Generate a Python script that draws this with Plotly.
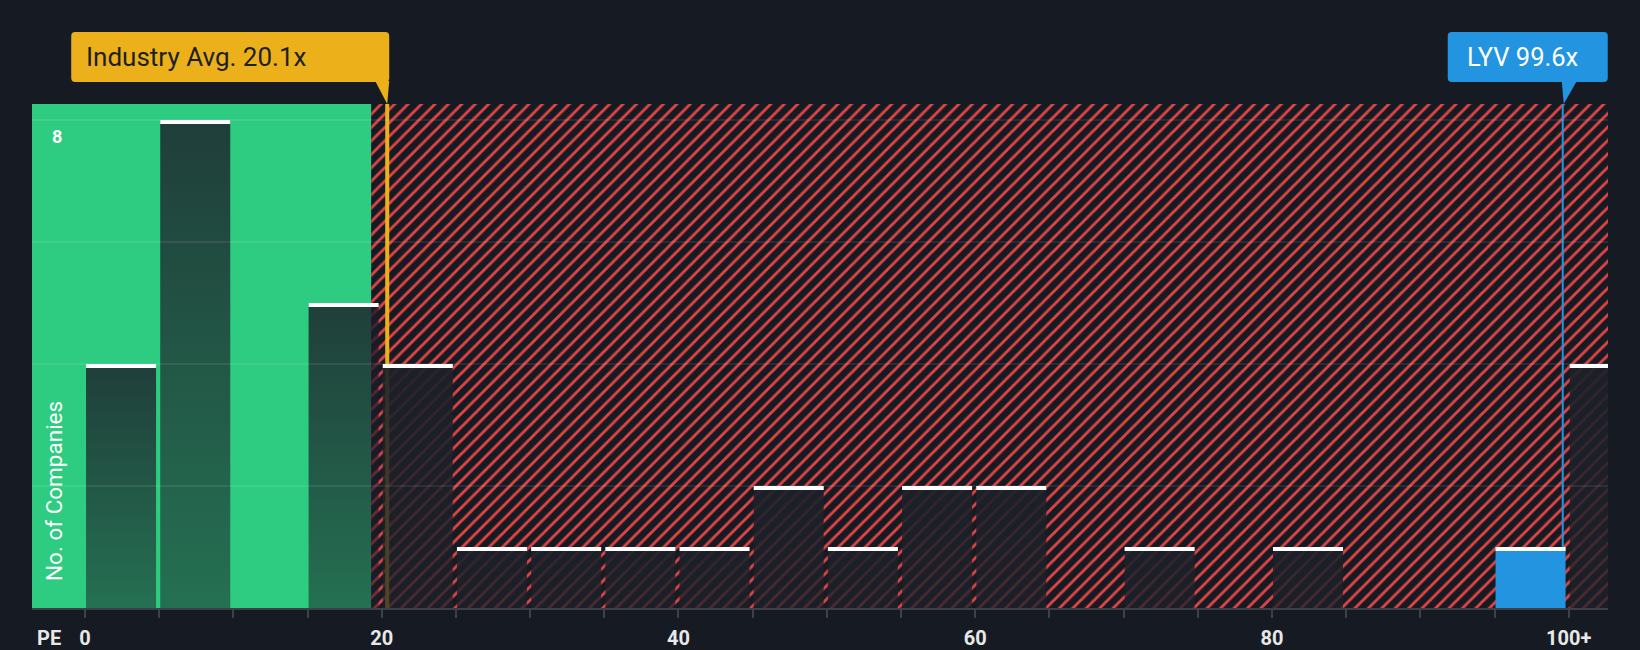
import plotly.graph_objects as go

# ---------------- data ----------------
bin_starts = [0, 5, 10, 15, 20, 25, 30, 35, 40, 45, 50, 55, 60, 65, 70, 75, 80, 85, 90, 95, 100]
counts = [4, 8, 0, 5, 4, 1, 1, 1, 1, 2, 1, 2, 2, 0, 1, 0, 1, 0, 0, 1, 4]
tick_vals = [0, 5, 10, 15, 20, 25, 30, 35, 40, 45, 50, 55, 60, 65, 70, 75, 80, 85, 90, 95, 100]
tick_text_map = {0: "0", 20: "20", 40: "40", 60: "60", 80: "80", 100: "100+"}
y_grid = [2, 4, 6, 8]
y_tick_labels = [8]
industry_avg = 20.1
company_pe = 99.6
company_name = "LYV"
company_bin = 95
fair_edge = 19.3

# ---------------- style ----------------
BG = "#161b23"
GREEN = "#2ecc80"
HATCH = "#e04444"
ORANGE = "#ecb11a"
BLUE = "#2394e0"
AXIS = "#3b414b"
FONT = "Roboto"
X_RANGE = [-3.572, 102.65]
Y_MAX = 8.262
BAR_PAD = 0.07
BAR_W = 4.72
PX_PER_Y = 61.0
PX_PER_X = 1576.0 / (X_RANGE[1] - X_RANGE[0])
IND_SHIFT_PX = 4  # visual nudge of the industry marker line

ind_x = industry_avg + IND_SHIFT_PX / PX_PER_X

fig = go.Figure()

# hatched (over-valued) zone
fig.add_trace(go.Scatter(
    x=[fair_edge, fair_edge, 110, 110, fair_edge],
    y=[0, Y_MAX, Y_MAX, 0, 0],
    mode="none", fill="toself", fillcolor=BG,
    fillpattern=dict(shape="/", fgcolor=HATCH, bgcolor=BG, fgopacity=1,
                     size=9.5, solidity=0.3),
    hoverinfo="skip",
))

# reference lines
fig.add_trace(go.Scatter(x=[ind_x, ind_x], y=[0, Y_MAX], mode="lines",
                         line=dict(color=ORANGE, width=4), hoverinfo="skip"))
fig.add_trace(go.Scatter(x=[company_pe, company_pe], y=[0, Y_MAX], mode="lines",
                         line=dict(color=BLUE, width=2), hoverinfo="skip"))

# bars
top_x, top_y = [], []
off = 2.0 / PX_PER_Y
for b, c in zip(bin_starts, counts):
    if c <= 0:
        continue
    x0, x1 = b + BAR_PAD, b + BAR_PAD + BAR_W
    xs = [x0, x0, x1, x1, x0]
    ys = [0, c, c, 0, 0]
    if b == company_bin:
        fig.add_trace(go.Scatter(x=xs, y=ys, mode="none", fill="toself",
                                 fillcolor=BLUE, hoverinfo="skip"))
    else:
        if x0 < fair_edge:
            cs = [[0, "rgba(28,27,40,0.52)"], [1, "rgba(28,27,40,0.80)"]]
        else:
            cs = [[0, "rgba(27,32,41,0.74)"], [1, "rgba(27,32,41,0.92)"]]
        fig.add_trace(go.Scatter(
            x=xs, y=ys, mode="none", fill="toself",
            fillgradient=dict(type="vertical", colorscale=cs),
            hoverinfo="skip"))
    top_x += [x0, x1, None]
    top_y += [c - off, c - off, None]

fig.add_trace(go.Scatter(x=top_x, y=top_y, mode="lines",
                         line=dict(color="#ffffff", width=4), hoverinfo="skip"))

shapes = []
# green (fair) zone
shapes.append(dict(type="rect", xref="x", yref="paper", x0=X_RANGE[0], x1=fair_edge, y0=0, y1=1,
                   fillcolor=GREEN, line=dict(width=0), layer="below"))
# grid lines over everything
for g in y_grid:
    shapes.append(dict(type="line", xref="paper", yref="y", x0=0, x1=1, y0=g, y1=g,
                       line=dict(color="rgba(255,255,255,0.08)", width=2), layer="above"))


def rounded_box(x0, x1, y0, y1, r=4):
    return (f"M{x0 + r},{y0} L{x1 - r},{y0} Q{x1},{y0} {x1},{y0 + r} "
            f"L{x1},{y1 - r} Q{x1},{y1} {x1 - r},{y1} L{x0 + r},{y1} "
            f"Q{x0},{y1} {x0},{y1 - r} L{x0},{y0 + r} Q{x0},{y0} {x0 + r},{y0} Z")


def callout(xval, bx0, bx1, tri, color):
    shapes.append(dict(type="path", xref="x", yref="paper", xsizemode="pixel", ysizemode="pixel",
                       xanchor=xval, yanchor=1, path=rounded_box(bx0, bx1, 22, 72),
                       fillcolor=color, line=dict(width=0), layer="above"))
    shapes.append(dict(type="path", xref="x", yref="paper", xsizemode="pixel", ysizemode="pixel",
                       xanchor=xval, yanchor=1, path=tri,
                       fillcolor=color, line=dict(width=0), layer="above"))


callout(ind_x, -316, 2, "M-12,23 L2,23 L0,0 Z", ORANGE)
callout(company_pe, -115, 45, "M-1,23 L14,23 L1,0 Z", BLUE)

annotations = [
    dict(text=f"Industry Avg. {industry_avg}x", xref="x", yref="paper", x=ind_x, y=1,
         xanchor="left", yanchor="middle", xshift=-303, yshift=47, showarrow=False,
         font=dict(family=FONT, size=26, color="#1d1f26")),
    dict(text=f"{company_name} {company_pe}x", xref="x", yref="paper", x=company_pe, y=1,
         xanchor="left", yanchor="middle", xshift=-98, yshift=47, showarrow=False,
         font=dict(family=FONT, size=25.5, color="#ffffff")),
    dict(text="PE", xref="paper", yref="paper", x=0, y=0, xanchor="left", yanchor="middle",
         xshift=3, yshift=-30, showarrow=False,
         font=dict(family=FONT, size=20, color="#e8e8e8", weight="bold")),
    dict(text="No. of Companies", xref="paper", yref="paper", x=0, y=0, xanchor="center",
         yanchor="bottom", xshift=22, yshift=25, textangle=-90, showarrow=False,
         font=dict(family=FONT, size=22.5, color="#ffffff")),
]
for v in y_tick_labels:
    annotations.append(dict(text=str(v), xref="paper", yref="y", x=0, y=v, xanchor="left",
                            yanchor="middle", xshift=18, yshift=-17, showarrow=False,
                            font=dict(family=FONT, size=18, color="#ffffff", weight="bold")))

fig.update_layout(
    width=1640, height=650,
    margin=dict(l=32, r=32, t=104, b=42, autoexpand=False),
    paper_bgcolor=BG, plot_bgcolor=BG,
    showlegend=False, hovermode=False,
    shapes=shapes, annotations=annotations,
    xaxis=dict(range=X_RANGE, showgrid=False, zeroline=False, showline=True,
               linecolor=AXIS, linewidth=2, ticks="outside", ticklen=8, tickwidth=2,
               tickcolor=AXIS, tickvals=tick_vals,
               ticktext=[tick_text_map.get(v, "") for v in tick_vals],
               tickfont=dict(family=FONT, size=20, color="#e8e8e8", weight="bold"),
               ticklabelstandoff=3, fixedrange=True, automargin=False),
    yaxis=dict(range=[0, Y_MAX], showgrid=False, zeroline=False, showticklabels=False,
               showline=False, ticks="", fixedrange=True, automargin=False),
)

fig.write_html(
    "out.html",
    config={"displayModeBar": False, "staticPlot": True},
    post_script="document.body.style.margin='0';document.body.style.overflow='hidden';"
                "document.body.style.background='#161b23';",
)
